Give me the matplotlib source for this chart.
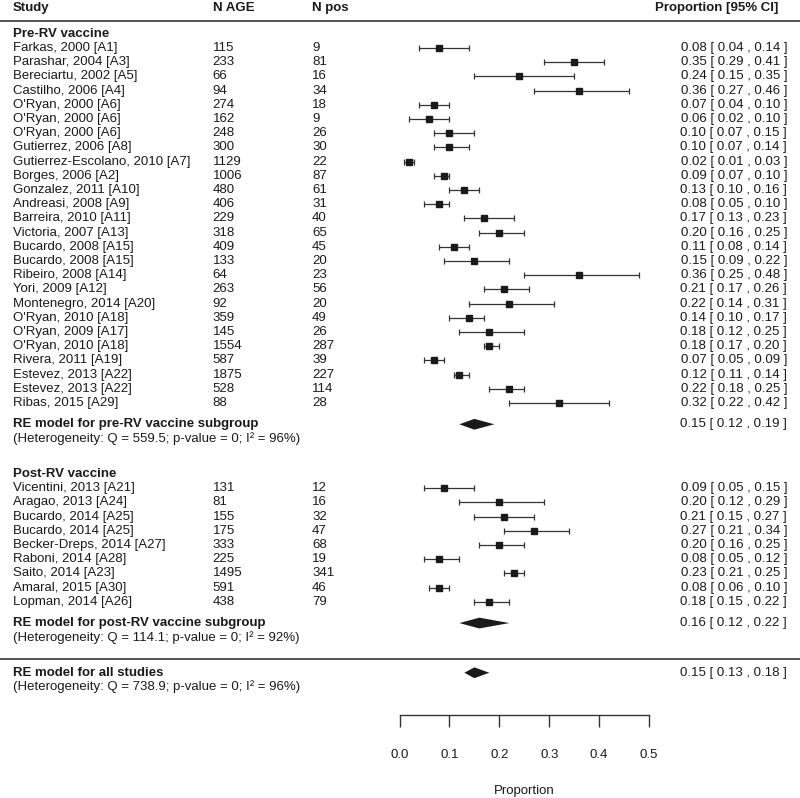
import matplotlib
matplotlib.use("Agg")
import matplotlib.pyplot as plt

# Pre-RV vaccine studies
pre_studies = [
	"Farkas, 2000 [A1]", "Parashar, 2004 [A3]", "Bereciartu, 2002 [A5]", "Castilho, 2006 [A4]",
	"O'Ryan, 2000 [A6]", "O'Ryan, 2000 [A6]", "O'Ryan, 2000 [A6]", "Gutierrez, 2006 [A8]",
	"Gutierrez-Escolano, 2010 [A7]", "Borges, 2006 [A2]", "Gonzalez, 2011 [A10]", "Andreasi, 2008 [A9]",
	"Barreira, 2010 [A11]", "Victoria, 2007 [A13]", "Bucardo, 2008 [A15]", "Bucardo, 2008 [A15]",
	"Ribeiro, 2008 [A14]", "Yori, 2009 [A12]", "Montenegro, 2014 [A20]", "O'Ryan, 2010 [A18]",
	"O'Ryan, 2009 [A17]", "O'Ryan, 2010 [A18]", "Rivera, 2011 [A19]", "Estevez, 2013 [A22]",
	"Estevez, 2013 [A22]", "Ribas, 2015 [A29]",
]
pre_nage = [115, 233, 66, 94, 274, 162, 248, 300, 1129, 1006, 480, 406, 229, 318, 409, 133,
			64, 263, 92, 359, 145, 1554, 587, 1875, 528, 88]
pre_npos = [9, 81, 16, 34, 18, 9, 26, 30, 22, 87, 61, 31, 40, 65, 45, 20,
			23, 56, 20, 49, 26, 287, 39, 227, 114, 28]
pre_est = [0.08, 0.35, 0.24, 0.36, 0.07, 0.06, 0.10, 0.10, 0.02, 0.09, 0.13, 0.08, 0.17, 0.20,
		   0.11, 0.15, 0.36, 0.21, 0.22, 0.14, 0.18, 0.18, 0.07, 0.12, 0.22, 0.32]
pre_lo = [0.04, 0.29, 0.15, 0.27, 0.04, 0.02, 0.07, 0.07, 0.01, 0.07, 0.10, 0.05, 0.13, 0.16,
		  0.08, 0.09, 0.25, 0.17, 0.14, 0.10, 0.12, 0.17, 0.05, 0.11, 0.18, 0.22]
pre_hi = [0.14, 0.41, 0.35, 0.46, 0.10, 0.10, 0.15, 0.14, 0.03, 0.10, 0.16, 0.10, 0.23, 0.25,
		  0.14, 0.22, 0.48, 0.26, 0.31, 0.17, 0.25, 0.20, 0.09, 0.14, 0.25, 0.42]

# Post-RV vaccine studies
post_studies = [
	"Vicentini, 2013 [A21]", "Aragao, 2013 [A24]", "Bucardo, 2014 [A25]", "Bucardo, 2014 [A25]",
	"Becker-Dreps, 2014 [A27]", "Raboni, 2014 [A28]", "Saito, 2014 [A23]", "Amaral, 2015 [A30]",
	"Lopman, 2014 [A26]",
]
post_nage = [131, 81, 155, 175, 333, 225, 1495, 591, 438]
post_npos = [12, 16, 32, 47, 68, 19, 341, 46, 79]
post_est = [0.09, 0.20, 0.21, 0.27, 0.20, 0.08, 0.23, 0.08, 0.18]
post_lo = [0.05, 0.12, 0.15, 0.21, 0.16, 0.05, 0.21, 0.06, 0.15]
post_hi = [0.15, 0.29, 0.27, 0.34, 0.25, 0.12, 0.25, 0.10, 0.22]

# RE model summaries
summary_labels = ["RE model for pre-RV vaccine subgroup", "RE model for post-RV vaccine subgroup",
				  "RE model for all studies"]
summary_het = ["(Heterogeneity: Q = 559.5; p-value = 0; I\u00b2 = 96%)",
			   "(Heterogeneity: Q = 114.1; p-value = 0; I\u00b2 = 92%)",
			   "(Heterogeneity: Q = 738.9; p-value = 0; I\u00b2 = 96%)"]
summary_est = [0.15, 0.16, 0.15]
summary_lo = [0.12, 0.12, 0.13]
summary_hi = [0.19, 0.22, 0.18]

x_ticks = [0.0, 0.1, 0.2, 0.3, 0.4, 0.5]

FS = 9.5
INK = "#1a1a1a"
LINE = "#333333"


def ci_text(est, lo, hi):
	return f"{est:.2f} [ {lo:.2f} , {hi:.2f} ]"


def draw_rows(ax, tr, rows, studies, nage, npos, est, lo, hi):
	for r, s, na, npo, e, l, h in zip(rows, studies, nage, npos, est, lo, hi):
		ax.text(0.016, r, s, transform=tr, fontsize=FS, va="center", color=INK)
		ax.text(0.266, r, str(na), transform=tr, fontsize=FS, va="center", color=INK)
		ax.text(0.39, r, str(npo), transform=tr, fontsize=FS, va="center", color=INK)
		ax.text(0.984, r, ci_text(e, l, h), transform=tr, fontsize=FS, va="center", ha="right", color=INK)
	ax.errorbar(est, rows, xerr=[[e - l for e, l in zip(est, lo)], [h - e for e, h in zip(est, hi)]],
				fmt="s", color=LINE, mfc=INK, mec=INK, ms=4.5, elinewidth=0.9, capsize=2.4, capthick=0.9)


def draw_summary(ax, tr, r, label, het, est, lo, hi):
	ax.text(0.016, r, label, transform=tr, fontsize=FS, va="center", fontweight="bold", color=INK)
	ax.text(0.016, r + 1, het, transform=tr, fontsize=FS, va="center", color=INK)
	ax.text(0.984, r, ci_text(est, lo, hi), transform=tr, fontsize=FS, va="center", ha="right", color=INK)
	h = 0.38
	ax.fill([lo, est, hi, est], [r, r - h, r, r + h], color=INK, lw=0)


def main():
	plt.rcParams["font.family"] = ["Liberation Sans", "DejaVu Sans"]
	fig = plt.figure(figsize=(8, 7.98), dpi=100)
	ax = fig.add_axes([0, 0, 1, 1])
	ax.set_xlim(-0.8006, 0.8026)
	ax.set_ylim(53.82, -2.38)
	ax.axis("off")
	tr = ax.get_yaxis_transform()

	# Header
	for x, s, ha in [(0.016, "Study", "left"), (0.266, "N AGE", "left"), (0.39, "N pos", "left"),
					 (0.9725, "Proportion [95% CI]", "right")]:
		ax.text(x, -1.85, s, transform=tr, fontsize=FS, va="center", ha=ha, fontweight="bold", color=INK)
	ax.axhline(-0.9, color=LINE, lw=1.2)

	# Pre-RV group
	ax.text(0.016, 0, "Pre-RV vaccine", transform=tr, fontsize=FS, va="center", fontweight="bold", color=INK)
	pre_rows = list(range(1, len(pre_studies) + 1))
	draw_rows(ax, tr, pre_rows, pre_studies, pre_nage, pre_npos, pre_est, pre_lo, pre_hi)
	draw_summary(ax, tr, 27.5, summary_labels[0], summary_het[0], summary_est[0], summary_lo[0], summary_hi[0])

	# Post-RV group
	ax.text(0.016, 31, "Post-RV vaccine", transform=tr, fontsize=FS, va="center", fontweight="bold", color=INK)
	post_rows = list(range(32, 32 + len(post_studies)))
	draw_rows(ax, tr, post_rows, post_studies, post_nage, post_npos, post_est, post_lo, post_hi)
	draw_summary(ax, tr, 41.5, summary_labels[1], summary_het[1], summary_est[1], summary_lo[1], summary_hi[1])

	ax.axhline(44, color=LINE, lw=1.2)
	draw_summary(ax, tr, 45, summary_labels[2], summary_het[2], summary_est[2], summary_lo[2], summary_hi[2])

	# Bottom axis
	ax.plot([x_ticks[0], x_ticks[-1]], [48, 48], color=LINE, lw=1.0)
	ax.vlines(x_ticks, 48, 48.85, color=LINE, lw=1.0)
	for t in x_ticks:
		ax.text(t, 50.8, f"{t:.1f}", fontsize=FS, ha="center", va="center", color=INK)
	ax.text((x_ticks[0] + x_ticks[-1]) / 2, 53.3, "Proportion", fontsize=FS, ha="center", va="center", color=INK)

	fig.savefig("out.png", dpi=100)


if __name__ == "__main__":
	main()
